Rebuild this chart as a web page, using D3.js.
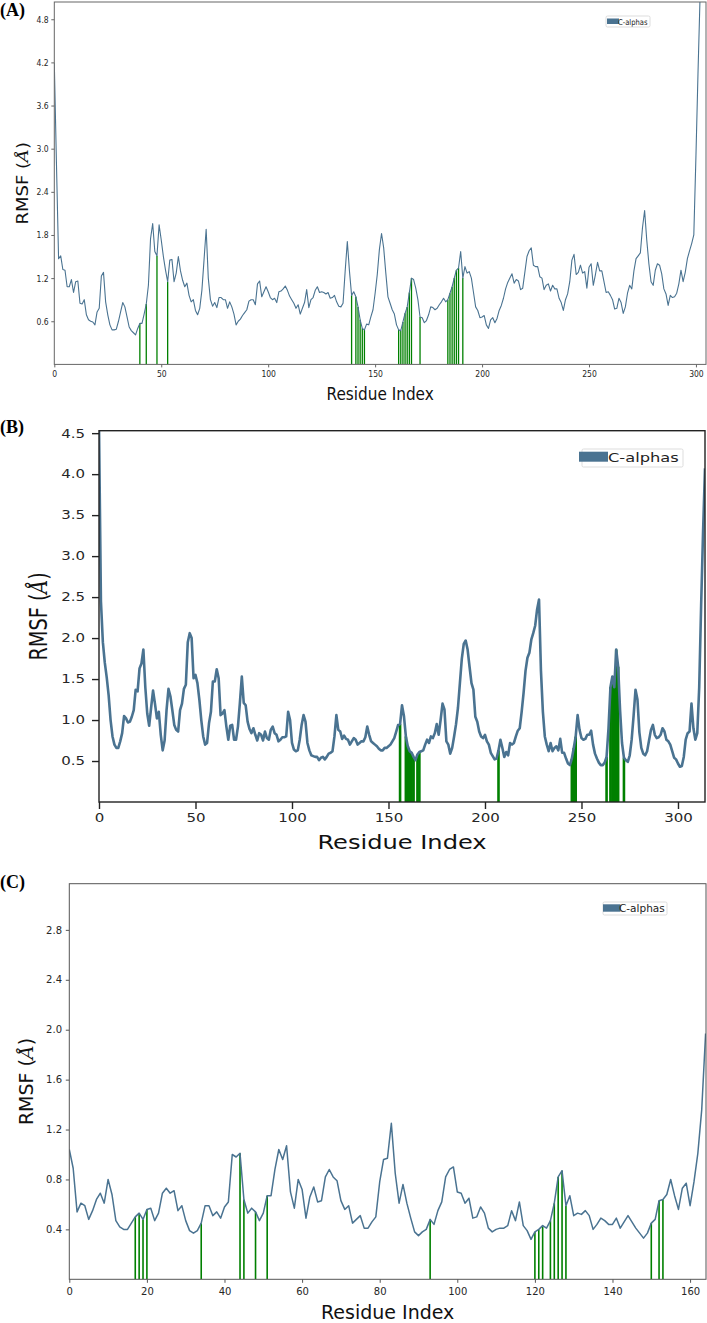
<!DOCTYPE html>
<html><head><meta charset="utf-8">
<script src="https://cdn.jsdelivr.net/npm/d3@7"></script>
<style>body{margin:0;background:#fff}svg{display:block}</style>
</head><body>
<svg id="c" width="707" height="1323"></svg>
<script>
// ---------------- DATA ----------------
const rmsfA=[4.19,2.80,1.47,1.51,1.32,1.31,1.08,1.08,1.18,1.00,
1.15,1.16,0.85,0.84,0.90,0.69,0.62,0.60,0.59,0.55,
0.73,0.78,1.23,1.28,0.87,0.69,0.55,0.48,0.48,0.49,
0.60,0.73,0.86,0.80,0.66,0.52,0.47,0.44,0.41,0.50,
0.57,0.57,0.70,0.84,1.10,1.75,1.96,1.57,1.51,1.94,
1.73,1.50,1.31,1.15,1.45,1.46,1.15,1.27,1.50,1.30,
1.17,1.08,1.13,0.96,0.87,0.90,0.75,0.69,0.78,1.03,
1.45,1.88,1.20,0.90,0.81,0.86,0.79,0.93,0.93,0.90,
0.90,0.78,0.87,0.80,0.70,0.55,0.60,0.63,0.68,0.72,
0.76,0.88,0.90,0.90,0.83,1.12,1.16,0.94,1.01,1.08,
1.01,0.93,0.90,0.92,0.86,1.01,1.02,1.05,1.09,1.03,
0.95,0.90,0.85,0.78,0.83,0.70,0.78,0.86,1.04,0.79,
0.90,0.93,1.03,1.08,1.00,1.01,1.00,0.98,1.00,0.92,
0.93,0.96,0.87,0.81,0.80,0.85,1.30,1.71,1.30,0.96,
1.01,0.94,0.80,0.62,0.50,0.48,0.56,0.55,0.66,0.76,
0.99,1.25,1.60,1.82,1.62,1.27,0.94,0.85,0.76,0.70,
0.55,0.48,0.47,0.59,0.71,0.80,1.00,1.20,1.18,1.06,
0.90,0.66,0.65,0.58,0.61,0.69,0.80,0.79,0.76,0.78,
0.83,0.87,0.92,0.87,0.90,0.99,1.08,1.20,1.31,1.34,
1.57,1.20,1.36,1.27,1.29,1.20,1.00,0.80,0.75,0.65,
0.66,0.68,0.55,0.50,0.62,0.65,0.58,0.64,0.75,0.82,
0.92,1.05,1.14,1.20,1.26,1.13,1.18,1.16,1.04,1.06,
1.28,1.50,1.58,1.62,1.38,1.36,1.36,1.22,1.20,1.04,
1.10,1.12,1.02,1.10,1.05,1.05,0.92,0.86,0.75,0.90,
0.98,1.15,1.45,1.53,1.25,1.28,1.38,1.27,1.29,1.06,
1.35,1.40,1.10,1.25,1.42,1.30,1.30,1.15,1.00,1.01,
0.96,0.90,0.77,0.78,0.92,0.86,0.71,0.80,0.99,1.10,
1.05,1.30,1.47,1.51,1.55,1.90,2.14,1.73,1.40,1.15,
1.10,1.31,1.40,1.38,1.26,1.05,0.98,0.82,0.96,0.93,
0.94,0.99,1.12,1.31,1.15,1.28,1.47,1.58,1.68,1.80,
2.90,4.10,5.20,5.70];

const rmsfB=[4.60,2.45,1.95,1.70,1.52,1.30,1.00,0.80,0.70,0.66,
0.66,0.74,0.84,1.05,1.02,0.97,0.98,1.04,1.12,1.37,
1.35,1.63,1.69,1.86,1.40,1.08,0.93,1.15,1.36,1.20,
1.02,1.10,0.82,0.63,0.75,1.12,1.38,1.29,1.12,0.94,
0.88,0.86,1.12,1.20,1.38,1.43,1.95,2.06,2.00,1.51,
1.55,1.45,1.25,1.00,0.80,0.70,0.72,0.96,1.10,1.47,
1.47,1.62,1.51,1.06,1.08,1.12,0.92,0.76,0.93,0.94,
0.76,0.76,0.92,1.21,1.53,1.21,1.18,0.98,0.89,0.84,
0.90,0.82,0.75,0.84,0.82,0.75,0.86,0.78,0.76,0.88,
0.92,0.84,0.82,0.74,0.76,0.79,0.79,0.80,1.10,1.00,
0.72,0.64,0.62,0.63,0.76,0.94,1.06,0.98,0.72,0.63,
0.57,0.56,0.55,0.55,0.51,0.54,0.55,0.52,0.55,0.59,
0.60,0.62,0.80,1.06,0.88,0.86,0.77,0.81,0.77,0.76,
0.70,0.74,0.78,0.76,0.70,0.72,0.74,0.74,0.79,0.92,
0.82,0.74,0.72,0.70,0.68,0.65,0.63,0.63,0.66,0.66,
0.68,0.70,0.74,0.78,0.86,0.94,0.95,1.18,1.05,0.80,
0.68,0.62,0.60,0.55,0.51,0.58,0.61,0.62,0.63,0.70,
0.76,0.72,0.80,0.78,0.84,0.95,0.82,1.00,1.20,1.13,
0.74,0.70,0.59,0.66,0.80,0.95,1.15,1.45,1.75,1.93,
1.97,1.86,1.65,1.45,1.37,1.04,0.98,0.86,0.80,0.78,
0.82,0.74,0.70,0.60,0.56,0.52,0.53,0.63,0.76,0.66,
0.55,0.61,0.57,0.72,0.70,0.72,0.80,0.87,0.90,1.10,
1.33,1.60,1.76,1.82,1.98,2.06,2.15,2.35,2.47,1.60,
1.10,0.80,0.70,0.62,0.72,0.62,0.66,0.68,0.63,0.77,
0.60,0.60,0.53,0.47,0.45,0.53,0.66,0.80,1.06,0.88,
0.78,0.76,0.77,0.82,0.82,0.87,0.70,0.59,0.53,0.48,
0.45,0.45,0.48,0.55,0.90,1.40,1.53,1.40,1.86,1.65,
1.12,0.72,0.54,0.51,0.49,0.57,0.76,1.05,1.37,1.25,
0.85,0.66,0.59,0.57,0.62,0.75,0.88,0.94,0.82,0.78,
0.79,0.82,0.90,0.86,0.76,0.74,0.70,0.62,0.54,0.52,
0.47,0.43,0.44,0.55,0.76,0.84,0.86,1.20,0.90,0.76,
0.84,1.40,2.40,3.30,4.07];

const rmsfC=[1.04,0.89,0.54,0.61,0.59,0.48,0.55,0.64,0.69,0.61,
0.80,0.68,0.47,0.42,0.40,0.40,0.45,0.50,0.53,0.48,
0.56,0.57,0.47,0.53,0.69,0.73,0.69,0.71,0.55,0.59,
0.47,0.39,0.37,0.39,0.45,0.59,0.59,0.51,0.54,0.49,
0.58,0.62,1.00,0.98,1.01,0.64,0.53,0.57,0.54,0.47,
0.53,0.67,0.67,0.88,1.04,0.96,1.07,0.70,0.57,0.80,
0.72,0.49,0.66,0.74,0.62,0.63,0.82,0.88,0.82,0.79,
0.63,0.56,0.59,0.45,0.48,0.51,0.41,0.41,0.46,0.50,
0.78,0.96,0.97,1.25,0.85,0.61,0.76,0.61,0.49,0.38,
0.35,0.38,0.40,0.48,0.44,0.55,0.62,0.82,0.88,0.90,
0.70,0.69,0.61,0.65,0.49,0.50,0.58,0.53,0.41,0.38,
0.40,0.41,0.41,0.43,0.55,0.47,0.62,0.43,0.39,0.32,
0.38,0.40,0.43,0.41,0.47,0.61,0.82,0.87,0.59,0.67,
0.51,0.53,0.52,0.55,0.51,0.40,0.44,0.49,0.47,0.44,
0.44,0.49,0.41,0.46,0.51,0.46,0.41,0.37,0.33,0.37,
0.45,0.48,0.63,0.64,0.68,0.80,0.67,0.56,0.73,0.77,
0.59,0.78,1.01,1.36,1.97];

const contactsA=[40,43,48,53,139,141,142,143,144,145,161,162,163,164,165,166,167,171,184,185,186,187,188,189,191];
const contactsB=[156,159,160,161,162,163,165,166,207,245,246,247,263,265,266,267,268,269,272];
const contactsC=[17,18,19,20,34,44,45,48,51,93,120,121,122,124,125,126,127,128,150,152,153];

const xTicksA=[0,50,100,150,200,250,300];
const yTicksA=[0.6,1.2,1.8,2.4,3.0,3.6,4.2,4.8];
const xTicksB=[0,50,100,150,200,250,300];
const yTicksB=[0.5,1.0,1.5,2.0,2.5,3.0,3.5,4.0,4.5];
const xTicksC=[0,20,40,60,80,100,120,140,160];
const yTicksC=[0.4,0.8,1.2,1.6,2.0,2.4,2.8];

const panelLabels=["(A)","(B)","(C)"];
const seriesName="C-alphas";
const xTitle="Residue Index";

// ---------------- LAYOUT ----------------
const lineColor="#4a7391";
const panels=[
 {lab:panelLabels[0],data:rmsfA,contacts:contactsA,xt:xTicksA,yt:yTicksA,xMax:304.7,yMax:5.04,
  l:54.3,t:2,r:706,b:364.4,sx:0.85,tf:9,lf:18,lw:1.1,glw:1.3,spine:"#666",spw:1,
  tk:3,ypad:2.6,xpad:3.7,ylx:28,xly:400,labY:16,
  lg:{x:606,y:16,w:44,h:11,px:607,py:18.5,pw:12,ph:5.5,tx:618,ty:24.8,fs:8}},
 {lab:panelLabels[1],data:rmsfB,contacts:contactsB,xt:xTicksB,yt:yTicksB,xMax:314,yMax:4.53,
  l:99,t:430.7,r:705,b:802,sx:1.25,tf:12,lf:19.3,lw:2.6,glw:2.6,spine:"#222",spw:1.4,
  tk:7,ypad:7,xpad:4,ylx:47,xly:849,labY:433,
  lg:{x:582,y:449,w:101,h:18,px:579,py:451.7,pw:29,ph:10,tx:608,ty:461.5,fs:13}},
 {lab:panelLabels[2],data:rmsfC,contacts:contactsC,xt:xTicksC,yt:yTicksC,xMax:164.1,yMax:3.17,
  l:69.3,t:883.7,r:706,b:1279.3,sx:1,tf:10,lf:19,lw:1.5,glw:1.6,spine:"#555",spw:1,
  tk:3.5,ypad:3.8,xpad:4.9,ylx:33,xly:1319,labY:888,
  lg:{x:603,y:902,w:64,h:13,px:603,py:904.3,pw:17.5,ph:7.4,tx:619,ty:911.6,fs:10.5}}
];

const svg=d3.select("#c");
svg.append("rect").attr("width",707).attr("height",1323).attr("fill","#fff");
const font="DejaVu Sans";

panels.forEach((p,k)=>{
  const g=svg.append("g");
  const x=d3.scaleLinear().domain([0,p.xMax]).range([p.l,p.r]);
  const y=d3.scaleLinear().domain([0,p.yMax]).range([p.b,p.t]);
  const cid="clip"+k;
  svg.append("clipPath").attr("id",cid).append("rect")
    .attr("x",p.l).attr("y",p.t).attr("width",p.r-p.l).attr("height",p.b-p.t);
  const pg=g.append("g").attr("clip-path",`url(#${cid})`);
  pg.selectAll("line.ct").data(p.contacts).join("line").attr("class","ct")
    .attr("x1",d=>x(d)).attr("x2",d=>x(d)).attr("y1",y(0)).attr("y2",d=>y(p.data[d]))
    .attr("stroke","#008000").attr("stroke-width",p.glw);
  pg.append("path").datum(p.data)
    .attr("d",d3.line().x((d,i)=>x(i)).y(d=>y(d)))
    .attr("fill","none").attr("stroke",lineColor).attr("stroke-width",p.lw)
    .attr("stroke-linejoin","round");

  // axes
  const xa=g.append("g").attr("transform",`translate(0,${p.b})`)
    .call(d3.axisBottom(x).tickValues(p.xt).tickSize(p.tk).tickPadding(p.xpad).tickSizeOuter(0).tickFormat(d3.format("d")));
  const ya=g.append("g").attr("transform",`translate(${p.l},0)`)
    .call(d3.axisLeft(y).tickValues(p.yt).tickSize(p.tk).tickPadding(p.ypad).tickSizeOuter(0).tickFormat(d3.format(".1f")));
  [xa,ya].forEach(a=>{
    a.select(".domain").remove();
    a.selectAll(".tick line").attr("stroke",p.spine).attr("stroke-width",p.spw);
    a.selectAll(".tick text").attr("fill","#262626").attr("font-family",font).attr("font-size",p.tf);
  });
  xa.selectAll(".tick text").attr("transform",`scale(${p.sx},1)`);
  ya.selectAll(".tick text").attr("x",-(p.tk+p.ypad)/p.sx).attr("transform",`scale(${p.sx},1)`);

  // frame
  g.append("rect").attr("x",p.l).attr("y",p.t).attr("width",p.r-p.l).attr("height",p.b-p.t)
    .attr("fill","none").attr("stroke",p.spine).attr("stroke-width",p.spw);

  // x title
  g.append("text").attr("transform",`translate(${(p.l+p.r)/2},${p.xly}) scale(${p.sx},1)`)
    .attr("text-anchor","middle").attr("font-family",font).attr("font-size",p.lf).attr("fill","#111")
    .text(xTitle);
  // y title
  const yt=g.append("text").attr("transform",`translate(${p.ylx},${(p.t+p.b)/2}) rotate(-90) scale(1,${p.sx})`)
    .attr("text-anchor","middle").attr("font-family",font).attr("font-size",p.lf).attr("fill","#111");
  yt.append("tspan").text("RMSF (");
  yt.append("tspan").attr("font-style","italic").attr("font-family","DejaVu Serif").text("Å");
  yt.append("tspan").text(")");

  // panel label
  g.append("text").attr("x",0).attr("y",p.labY).attr("font-family","Liberation Serif")
    .attr("font-weight","bold").attr("font-size",18).attr("fill","#000").text(p.lab);

  // legend
  const L=p.lg;
  g.append("rect").attr("x",L.x).attr("y",L.y).attr("width",L.w).attr("height",L.h).attr("rx",1.5)
    .attr("fill","#fff").attr("fill-opacity",0.8).attr("stroke","#d4d4d4").attr("stroke-width",0.8);
  g.append("rect").attr("x",L.px).attr("y",L.py).attr("width",L.pw).attr("height",L.ph).attr("fill",lineColor);
  g.append("text").attr("transform",`translate(${L.tx},${L.ty}) scale(${p.sx},1)`)
    .attr("font-family",font).attr("font-size",L.fs).attr("fill","#222").text(seriesName);
});
</script>
</body></html>
